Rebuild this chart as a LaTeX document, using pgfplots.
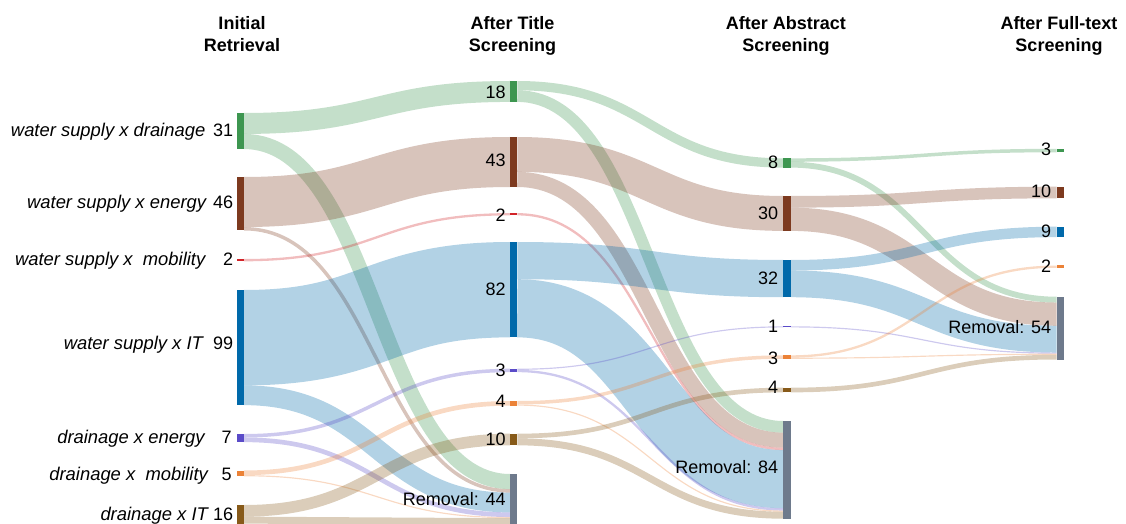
\documentclass[border=0pt]{standalone}
\usepackage{fontspec}
\setmainfont{Liberation Sans}
\usepackage{pgfplots}
\pgfplotsset{compat=1.18}
\definecolor{cgreen}{RGB}{61,150,80}
\definecolor{cbrown}{RGB}{125,58,31}
\definecolor{cred}{RGB}{210,35,40}
\definecolor{cblue}{RGB}{0,105,170}
\definecolor{cpurple}{RGB}{90,75,200}
\definecolor{corange}{RGB}{235,130,55}
\definecolor{ctan}{RGB}{135,90,25}
\definecolor{cgray}{RGB}{110,122,140}

% pixels per unit of flow, node width
\def\sc{1.163}
\def\nw{7.3}
% column left / right edges
\def\xA{236.7} \def\xB{510} \def\xC{783.3} \def\xD{1056.6}
\def\rA{244} \def\rB{517.3} \def\rC{790.6}
% node tops
\def\aI{113}\def\aII{177}\def\aIII{259}\def\aIV{290}\def\aV{434}\def\aVI{470.5}\def\aVII{505}
\def\bI{81}\def\bII{137}\def\bIII{213.1}\def\bIV{242}\def\bV{368.7}\def\bVI{401}\def\bVII{433.7}\def\bVIII{474}
\def\cI{158.3}\def\cII{196}\def\cIII{260}\def\cIV{326.3}\def\cV{355.3}\def\cVI{387.7}\def\cVII{421}
\def\dI{148.8}\def\dII{186.7}\def\dIII{226.7}\def\dIV{265.5}\def\dV{296.7}

\newcommand{\snode}[4]{% x-left, y-top, value, colour
  \pgfmathsetmacro{\nya}{#2}%
  \pgfmathsetmacro{\nyb}{#2+#3*\sc}%
  \pgfmathsetmacro{\nxa}{#1}%
  \pgfmathsetmacro{\nxb}{#1+\nw}%
  \edef\temp{\noexpand\addplot[fill=#4, draw=none, forget plot] coordinates {(\nxa,\nya) (\nxb,\nya) (\nxb,\nyb) (\nxa,\nyb)};}%
  \temp}

\newcommand{\slink}[8]{% x0, y0top, off0, x1, y1top, off1, value, colour
  \pgfmathsetmacro{\la}{#2+(#3+#7/2)*\sc}%
  \pgfmathsetmacro{\lb}{#5+(#6+#7/2)*\sc}%
  \pgfmathsetmacro{\lm}{(#1+#4)/2}%
  \pgfmathsetmacro{\lw}{#7*\sc*0.5}%
  \edef\temp{\noexpand\draw[#8, draw opacity=0.3, line width=\lw pt] (axis cs:#1,\la) .. controls (axis cs:\lm,\la) and (axis cs:\lm,\lb) .. (axis cs:#4,\lb);}%
  \temp}

\begin{document}
\begin{tikzpicture}[every node/.append style={font=\fontsize{9}{11}\selectfont, inner sep=0pt},
  cat/.style={anchor=base east, font=\fontsize{9.2}{11}\selectfont\itshape},
  ttl/.style={anchor=base, font=\fontsize{9}{11}\selectfont\bfseries}]
\begin{axis}[width=563pt, height=262pt, scale only axis,
  xmin=0, xmax=1126, ymin=0, ymax=524, y dir=reverse,
  hide axis, clip=false]
\coordinate (bbsw) at (axis cs:0,524);
\coordinate (bbne) at (axis cs:1126,0);
% ---- links: column 1 -> column 2
\slink{\rA}{\aI}{0}{\xB}{\bI}{0}{18}{cgreen}
\slink{\rA}{\aI}{18}{\xB}{\bVIII}{0}{13}{cgreen}
\slink{\rA}{\aII}{0}{\xB}{\bII}{0}{43}{cbrown}
\slink{\rA}{\aII}{43}{\xB}{\bVIII}{13}{3}{cbrown}
\slink{\rA}{\aIII}{0}{\xB}{\bIII}{0}{2}{cred}
\slink{\rA}{\aIV}{0}{\xB}{\bIV}{0}{82}{cblue}
\slink{\rA}{\aIV}{82}{\xB}{\bVIII}{16}{17}{cblue}
\slink{\rA}{\aV}{0}{\xB}{\bV}{0}{3}{cpurple}
\slink{\rA}{\aV}{3}{\xB}{\bVIII}{33}{4}{cpurple}
\slink{\rA}{\aVI}{0}{\xB}{\bVI}{0}{4}{corange}
\slink{\rA}{\aVI}{4}{\xB}{\bVIII}{37}{1}{corange}
\slink{\rA}{\aVII}{0}{\xB}{\bVII}{0}{10}{ctan}
\slink{\rA}{\aVII}{10}{\xB}{\bVIII}{38}{6}{ctan}
% ---- links: column 2 -> column 3
\slink{\rB}{\bI}{0}{\xC}{\cI}{0}{8}{cgreen}
\slink{\rB}{\bI}{8}{\xC}{\cVII}{0}{10}{cgreen}
\slink{\rB}{\bII}{0}{\xC}{\cII}{0}{30}{cbrown}
\slink{\rB}{\bII}{30}{\xC}{\cVII}{10}{13}{cbrown}
\slink{\rB}{\bIII}{0}{\xC}{\cVII}{23}{2}{cred}
\slink{\rB}{\bIV}{0}{\xC}{\cIII}{0}{32}{cblue}
\slink{\rB}{\bIV}{32}{\xC}{\cVII}{25}{50}{cblue}
\slink{\rB}{\bV}{0}{\xC}{\cIV}{0}{1}{cpurple}
\slink{\rB}{\bV}{1}{\xC}{\cVII}{75}{2}{cpurple}
\slink{\rB}{\bVI}{0}{\xC}{\cV}{0}{3}{corange}
\slink{\rB}{\bVI}{3}{\xC}{\cVII}{77}{1}{corange}
\slink{\rB}{\bVII}{0}{\xC}{\cVI}{0}{4}{ctan}
\slink{\rB}{\bVII}{4}{\xC}{\cVII}{78}{6}{ctan}
% ---- links: column 3 -> column 4
\slink{\rC}{\cI}{0}{\xD}{\dI}{0}{3}{cgreen}
\slink{\rC}{\cI}{3}{\xD}{\dV}{0}{5}{cgreen}
\slink{\rC}{\cII}{0}{\xD}{\dII}{0}{10}{cbrown}
\slink{\rC}{\cII}{10}{\xD}{\dV}{5}{20}{cbrown}
\slink{\rC}{\cIII}{0}{\xD}{\dIII}{0}{9}{cblue}
\slink{\rC}{\cIII}{9}{\xD}{\dV}{25}{23}{cblue}
\slink{\rC}{\cIV}{0}{\xD}{\dV}{48}{1}{cpurple}
\slink{\rC}{\cV}{0}{\xD}{\dIV}{0}{2}{corange}
\slink{\rC}{\cV}{2}{\xD}{\dV}{49}{1}{corange}
\slink{\rC}{\cVI}{0}{\xD}{\dV}{50}{4}{ctan}
% ---- nodes
\snode{\xA}{\aI}{31}{cgreen}
\snode{\xA}{\aII}{46}{cbrown}
\snode{\xA}{\aIII}{2}{cred}
\snode{\xA}{\aIV}{99}{cblue}
\snode{\xA}{\aV}{7}{cpurple}
\snode{\xA}{\aVI}{5}{corange}
\snode{\xA}{\aVII}{16}{ctan}
\snode{\xB}{\bI}{18}{cgreen}
\snode{\xB}{\bII}{43}{cbrown}
\snode{\xB}{\bIII}{2}{cred}
\snode{\xB}{\bIV}{82}{cblue}
\snode{\xB}{\bV}{3}{cpurple}
\snode{\xB}{\bVI}{4}{corange}
\snode{\xB}{\bVII}{10}{ctan}
\snode{\xB}{\bVIII}{44}{cgray}
\snode{\xC}{\cI}{8}{cgreen}
\snode{\xC}{\cII}{30}{cbrown}
\snode{\xC}{\cIII}{32}{cblue}
\snode{\xC}{\cIV}{1}{cpurple}
\snode{\xC}{\cV}{3}{corange}
\snode{\xC}{\cVI}{4}{ctan}
\snode{\xC}{\cVII}{84}{cgray}
\snode{\xD}{\dI}{3}{cgreen}
\snode{\xD}{\dII}{10}{cbrown}
\snode{\xD}{\dIII}{9}{cblue}
\snode{\xD}{\dIV}{2}{corange}
\snode{\xD}{\dV}{54}{cgray}
% ---- column titles
\node[ttl] at (axis cs:242,29.3) {Initial};
\node[ttl] at (axis cs:242,51.3) {Retrieval};
\node[ttl] at (axis cs:512.5,29.3) {After Title};
\node[ttl] at (axis cs:512.5,51.3) {Screening};
\node[ttl] at (axis cs:786,29.3) {After Abstract};
\node[ttl] at (axis cs:786,51.3) {Screening};
\node[ttl] at (axis cs:1059,29.3) {After Full-text};
\node[ttl] at (axis cs:1059,51.3) {Screening};
% ---- column 1 labels
\node[cat] at (axis cs:205.7,136.7) {water supply x drainage};
\node[cat] at (axis cs:206.5,208.5) {water supply x energy};
\node[cat] at (axis cs:205.7,265.5) {water supply x\ \ mobility};
\node[cat] at (axis cs:203.3,350) {water supply x IT};
\node[cat] at (axis cs:205,443.5) {drainage x energy};
\node[cat] at (axis cs:208.3,480.5) {drainage x\ \ mobility};
\node[cat] at (axis cs:208.3,520) {drainage x IT};
\node[anchor=base east] at (axis cs:233.5,136.7) {31};
\node[anchor=base east] at (axis cs:233.5,208.5) {46};
\node[anchor=base east] at (axis cs:233.5,265.5) {2};
\node[anchor=base east] at (axis cs:233.5,350) {99};
\node[anchor=base east] at (axis cs:232,443.5) {7};
\node[anchor=base east] at (axis cs:232,480.5) {5};
\node[anchor=base east] at (axis cs:233.5,520) {16};
% ---- column 2 labels
\node[anchor=base east] at (axis cs:506,98.5) {18};
\node[anchor=base east] at (axis cs:506,166.5) {43};
\node[anchor=base east] at (axis cs:506,221) {2};
\node[anchor=base east] at (axis cs:506,295) {82};
\node[anchor=base east] at (axis cs:506,376.7) {3};
\node[anchor=base east] at (axis cs:506,407.5) {4};
\node[anchor=base east] at (axis cs:506,445.5) {10};
\node[anchor=base east] at (axis cs:506,505) {Removal: 44};
% ---- column 3 labels
\node[anchor=base east] at (axis cs:778.5,168.5) {8};
\node[anchor=base east] at (axis cs:778.5,220) {30};
\node[anchor=base east] at (axis cs:778.5,284.5) {32};
\node[anchor=base east] at (axis cs:778.5,332) {1};
\node[anchor=base east] at (axis cs:778.5,364.5) {3};
\node[anchor=base east] at (axis cs:778.5,393.5) {4};
\node[anchor=base east] at (axis cs:778.5,473) {Removal: 84};
% ---- column 4 labels
\node[anchor=base east] at (axis cs:1051.5,155.5) {3};
\node[anchor=base east] at (axis cs:1051.5,197.5) {10};
\node[anchor=base east] at (axis cs:1051.5,237.5) {9};
\node[anchor=base east] at (axis cs:1051.5,272.3) {2};
\node[anchor=base east] at (axis cs:1051.5,333.3) {Removal: 54};
\end{axis}
\pgfresetboundingbox
\useasboundingbox (bbsw) rectangle (bbne);
\end{tikzpicture}
\end{document}
